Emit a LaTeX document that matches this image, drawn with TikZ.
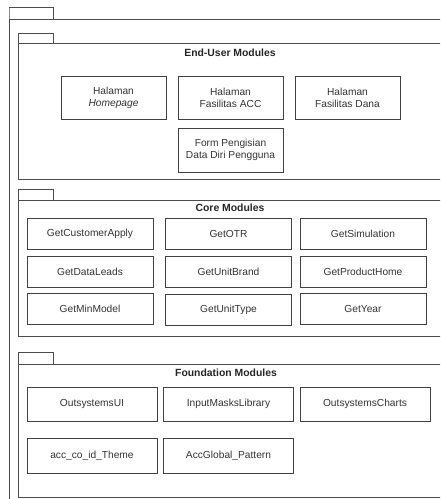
\documentclass[tikz,border=0pt]{standalone}
\usepackage{fontspec}
\setmainfont{Liberation Sans}
\begin{document}
\begin{tikzpicture}[x=1pt,y=-1pt,
  frame/.style={draw=black!70,line width=0.8pt},
  box/.style={draw=black!75,line width=0.8pt,rectangle,inner sep=0pt,align=center,font=\fontsize{10.2}{11.8}\selectfont,text=black!80},
  cbox/.style={box,minimum width=126pt,minimum height=31pt},
  fbox/.style={box,minimum width=130pt,minimum height=34pt},
  ebox/.style={box,minimum width=105pt,minimum height=43pt},
  title/.style={font=\fontsize{10.4}{12}\selectfont\bfseries,text=black!85,inner sep=0pt}]
\useasboundingbox (0,0) rectangle (440,499);
\fill[white] (0,0) rectangle (440,499);
\begin{scope}
\clip (0,0) rectangle (440,499);
% outer package
\draw[frame] (9,19) rectangle (9,7) -- (53,7) -- (53,19);
\draw[frame] (9,510) -- (9,19) -- (450,19);
% End-User
\draw[frame] (18,43) -- (18,33) -- (53,33) -- (53,43);
\draw[frame] (450,43) -- (18,43) -- (18,179) -- (450,179);
% Core
\draw[frame] (18,200) -- (18,189) -- (53,189) -- (53,200);
\draw[frame] (450,200) -- (18,200) -- (18,336) -- (450,336);
% Foundation
\draw[frame] (18,364) -- (18,352) -- (53,352) -- (53,364);
\draw[frame] (450,364) -- (18,364) -- (18,497.5) -- (450,497.5);
\end{scope}

\node[title] (teu) at (230,53) {End-User Modules};
\node[ebox] (hp) at (113.5,97.5) {Halaman\\\textit{Homepage}};
\node[ebox] (acc) at (230.5,97.5) {Halaman\\Fasilitas ACC};
\node[ebox] (dana) at (347.5,97.5) {Halaman\\Fasilitas Dana};
\node[ebox,minimum height=44pt] (form) at (230.5,150) {Form Pengisian\\Data Diri Pengguna};

\node[title] (tcore) at (230,208) {Core Modules};
\node[cbox] (c11) at (90,233.5) {GetCustomerApply};
\node[cbox] (c12) at (228.5,233.5) {GetOTR};
\node[cbox] (c13) at (363,233.5) {GetSimulation};
\node[cbox] (c21) at (90,272) {GetDataLeads};
\node[cbox] (c22) at (228.5,272) {GetUnitBrand};
\node[cbox] (c23) at (363,271.5) {GetProductHome};
\node[cbox] (c31) at (90,308.5) {GetMinModel};
\node[cbox] (c32) at (228.5,310) {GetUnitType};
\node[cbox] (c33) at (363,308.5) {GetYear};

\node[title] (tfound) at (226,373) {Foundation Modules};
\node[fbox] (f11) at (92,404) {OutsystemsUI};
\node[fbox] (f12) at (228.5,404) {InputMasksLibrary};
\node[fbox] (f13) at (365,404) {OutsystemsCharts};
\node[fbox,minimum height=35pt] (f21) at (92,455.5) {acc\_co\_id\_Theme};
\node[fbox,minimum height=35pt] (f22) at (228.5,455.5) {AccGlobal\_Pattern};
\end{tikzpicture}
\end{document}
